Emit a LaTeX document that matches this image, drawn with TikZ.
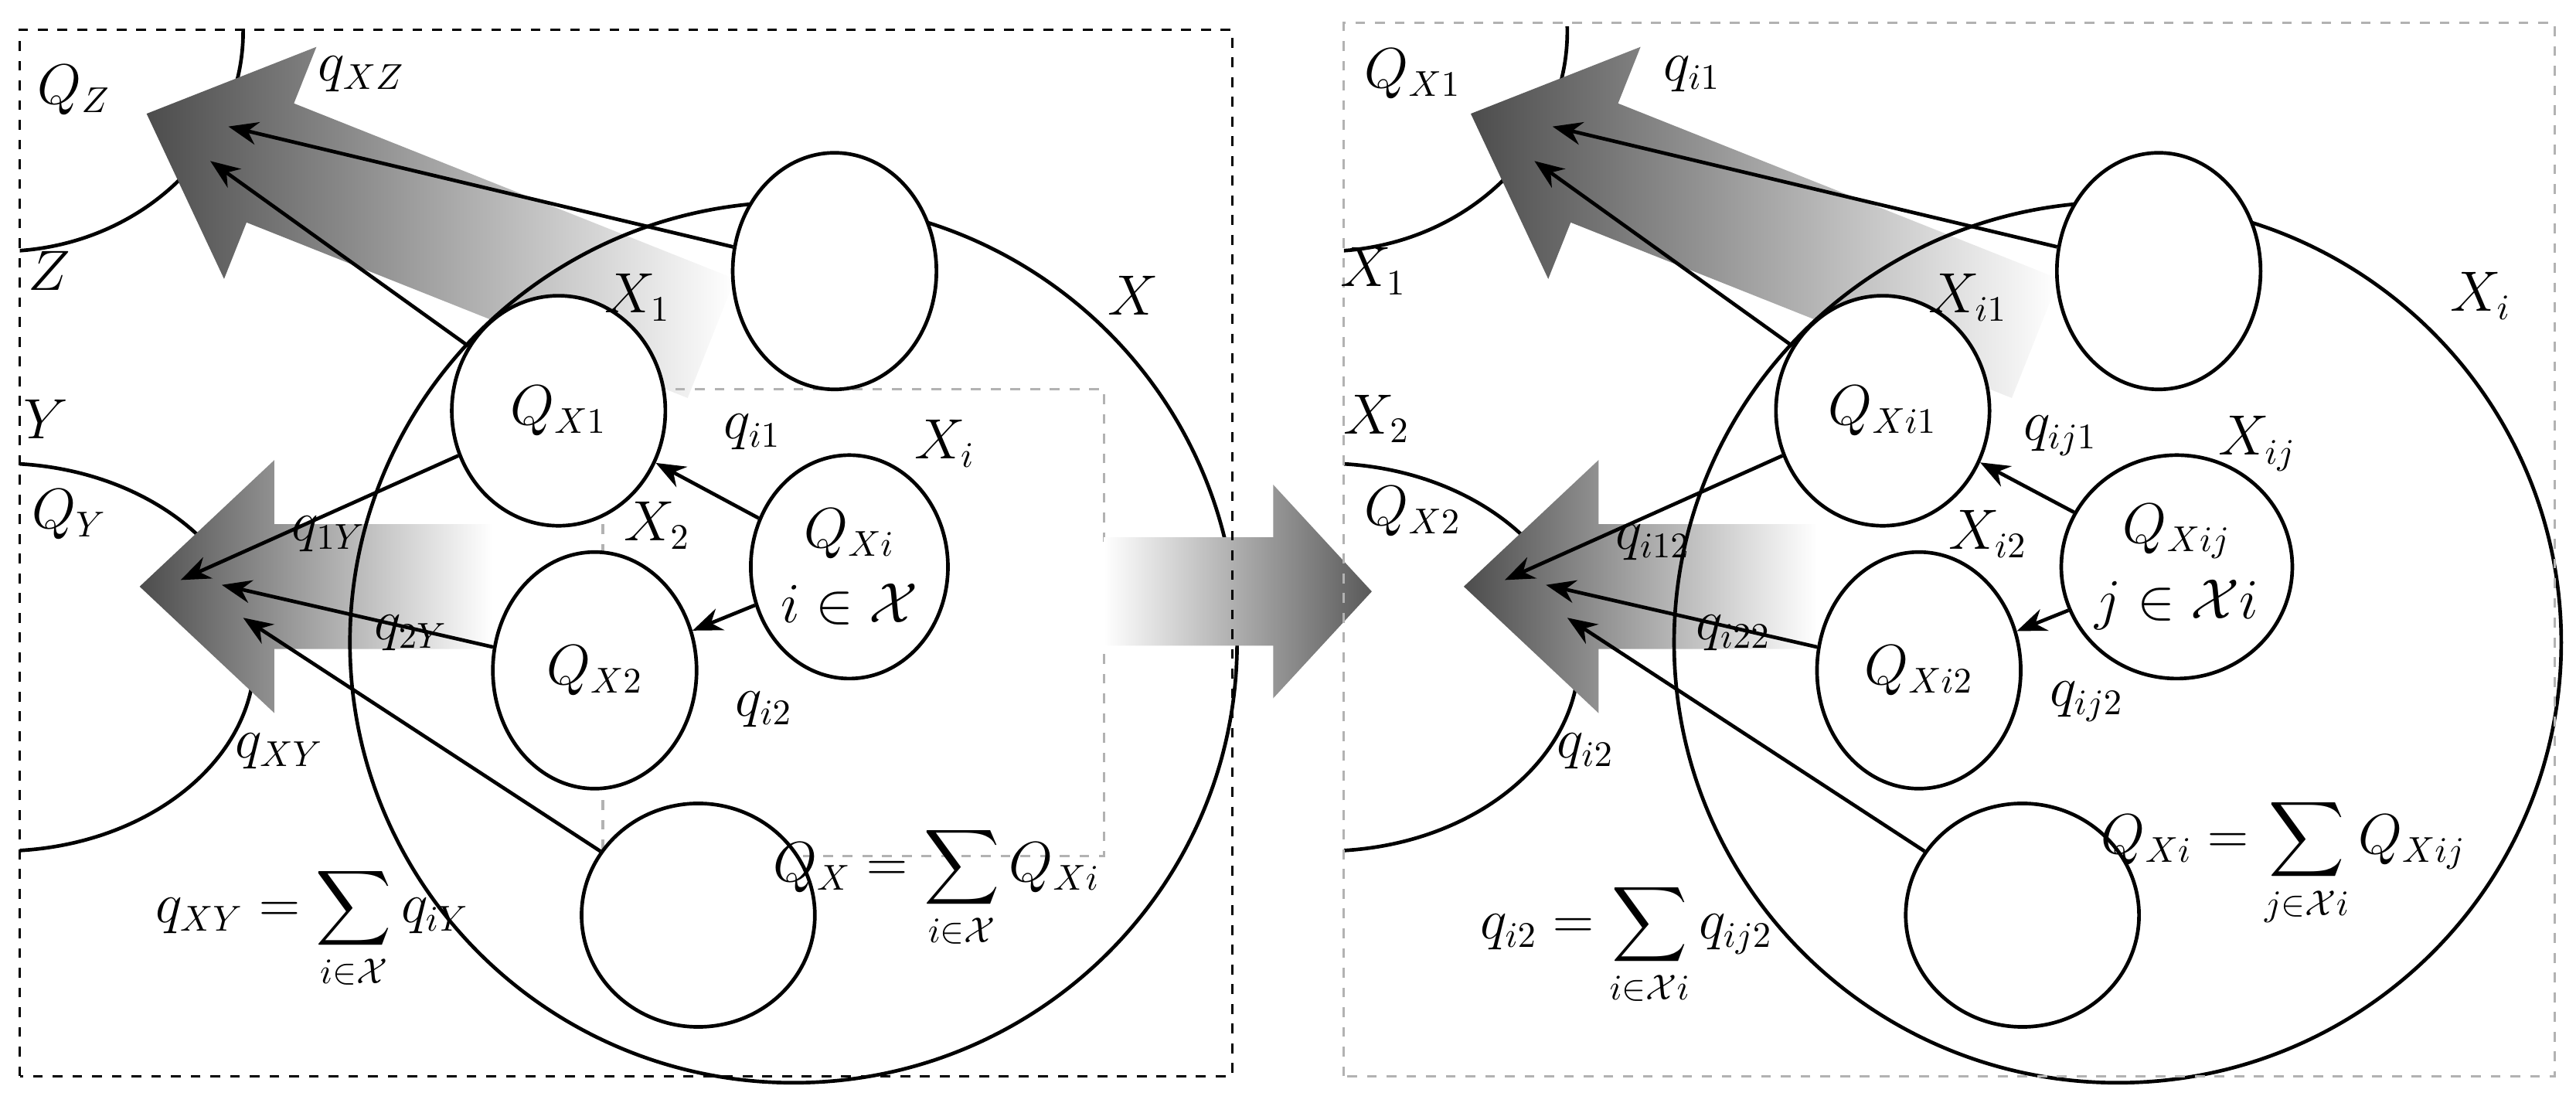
\documentclass[tikz,border=0pt]{standalone}
\usepackage{amsmath,amssymb}
\usepackage{tikz}
\usetikzlibrary{arrows.meta,shapes.geometric}

% shaded wide arrow: tail, angle, length, half shaft, half head, head length, shading
\newcommand{\fatarrow}[7]{%
  \shade[shift={#1},rotate=#2,#7]
    (0,-#4) -- ({#3-#6},-#4) -- ({#3-#6},-#5) -- (#3,0) -- ({#3-#6},#5)
    -- ({#3-#6},#4) -- (0,#4) -- cycle;}

\tikzset{
  txt/.style={font=\fontsize{16}{19}\selectfont},
  ring/.style={ellipse,draw,line width=1.1pt,fill=white,inner sep=0pt,txt},
  thin/.style={-{Stealth[length=9pt,width=7pt]},line width=1.1pt},
  lbl/.style={txt,inner sep=1pt},
  toleft/.style={left color=black!70,right color=white},
  toright/.style={left color=white,right color=black!65}
}

\begin{document}
\begin{tikzpicture}[x=0.5pt,y=0.5pt]
\useasboundingbox (0,0) rectangle (1568,671);

%% left panel
\begin{scope}
\begin{scope}
\clip (12,16) rectangle (750,653);
\draw[line width=1.1pt] (0,652) ellipse[x radius=148,y radius=134];
\draw[line width=1.1pt] (0,271) ellipse[x radius=155,y radius=118];
\end{scope}
\fatarrow{(433,465)}{158.3}{370}{39}{76}{81}{toleft}
\fatarrow{(300,314)}{180}{215}{38}{77}{82}{toleft}
\draw[line width=1.1pt] (483,280) ellipse[x radius=270,y radius=268];
\draw[gray!60,dashed,line width=0.8pt] (672,341) -- (672,434) -- (367,434) -- (367,150) -- (672,150) -- (672,276);
\fatarrow{(672,311)}{0}{163}{33}{65}{60}{toright}
\draw[black,dashed,line width=0.8pt] (12,16) rectangle (750,653);
\node[ring,minimum width=62pt,minimum height=72pt] (T) at (508,506) {};
\node[ring,minimum width=65pt,minimum height=70pt] (X1) at (340,421) {$Q_{X1}$};
\node[ring,minimum width=62pt,minimum height=72pt] (X2) at (362,263) {$Q_{X2}$};
\node[ring,minimum width=60pt,minimum height=68pt,align=center] (Xi) at (517,326) {$Q_{Xi}$\\[4pt]$i\in\mathcal{X}$};
\node[ring,minimum width=71pt,minimum height=68pt] (B) at (425,114) {};
\coordinate (zA) at (139,594);
\coordinate (zB) at (128,573);
\coordinate (yA) at (110,318);
\coordinate (yB) at (135,315);
\coordinate (yC) at (148,295);
\draw[thin] (T) -- (zA);
\draw[thin] (X1) -- (zB);
\draw[thin] (X1) -- (yA);
\draw[thin] (X2) -- (yB);
\draw[thin] (B) -- (yC);
\draw[thin] (Xi) -- (X1);
\draw[thin] (Xi) -- (X2);
\node[lbl] (lQZ) at (45,616) {$Q_Z$};
\node[lbl] (lqXZ) at (220,626) {$q_{XZ}$};
\node[lbl] (lZ) at (30,506) {$Z$};
\node[lbl] (lX1) at (388,490) {$X_1$};
\node[lbl] (lX) at (690,491) {$X$};
\node[lbl] (lY) at (28,416) {$Y$};
\node[lbl] (lQY) at (42,358) {$Q_Y$};
\node[lbl] (lq1Y) at (200,346) {$q_{1Y}$};
\node[lbl] (lX2) at (400,351) {$X_2$};
\node[lbl] (lqi1) at (458,408) {$q_{i1}$};
\node[lbl] (lXi) at (575,401) {$X_i$};
\node[lbl] (lq2Y) at (250,286) {$q_{2Y}$};
\node[lbl] (lqi2) at (465,239) {$q_{i2}$};
\node[lbl] (lqXY) at (170,214) {$q_{XY}$};
\node[lbl] (fL) at (190,106) {$q_{XY}=\displaystyle\sum_{i\in\mathcal{X}}q_{iY}$};
\node[lbl] (fR) at (570,131) {$Q_{X}=\displaystyle\sum_{i\in\mathcal{X}}Q_{Xi}$};
\end{scope}

%% right panel
\begin{scope}[xshift=806*0.5pt]
\begin{scope}
\clip (12,16) rectangle (749,655);
\draw[line width=1.1pt] (0,652) ellipse[x radius=148,y radius=134];
\draw[line width=1.1pt] (0,271) ellipse[x radius=155,y radius=118];
\end{scope}
\fatarrow{(433,465)}{158.3}{370}{39}{76}{81}{toleft}
\fatarrow{(300,314)}{180}{215}{38}{77}{82}{toleft}
\draw[line width=1.1pt] (483,280) ellipse[x radius=270,y radius=268];
\draw[gray!60,dashed,line width=0.8pt] (12,16) rectangle (749,657);
\node[ring,minimum width=62pt,minimum height=72pt] (rT) at (508,506) {};
\node[ring,minimum width=65pt,minimum height=70pt] (rX1) at (340,421) {$Q_{Xi1}$};
\node[ring,minimum width=62pt,minimum height=72pt] (rX2) at (362,263) {$Q_{Xi2}$};
\node[ring,minimum width=60pt,minimum height=68pt,align=center] (rXi) at (519,326) {$Q_{Xij}$\\[4pt]$j\in\mathcal{X}i$};
\node[ring,minimum width=71pt,minimum height=68pt] (rB) at (425,114) {};
\coordinate (rzA) at (139,594);
\coordinate (rzB) at (128,573);
\coordinate (ryA) at (110,318);
\coordinate (ryB) at (135,315);
\coordinate (ryC) at (148,295);
\draw[thin] (rT) -- (rzA);
\draw[thin] (rX1) -- (rzB);
\draw[thin] (rX1) -- (ryA);
\draw[thin] (rX2) -- (ryB);
\draw[thin] (rB) -- (ryC);
\draw[thin] (rXi) -- (rX1);
\draw[thin] (rXi) -- (rX2);
\node[lbl] (rlQX1) at (54,626) {$Q_{X1}$};
\node[lbl] (rlqi1) at (224,626) {$q_{i1}$};
\node[lbl] (rlX1) at (30,506) {$X_1$};
\node[lbl] (rlXi1) at (392,490) {$X_{i1}$};
\node[lbl] (rlXi) at (704,491) {$X_i$};
\node[lbl] (rlX2) at (32,416) {$X_2$};
\node[lbl] (rlQX2) at (54,360) {$Q_{X2}$};
\node[lbl] (rlqi12) at (200,341) {$q_{i12}$};
\node[lbl] (rlXi2) at (404,346) {$X_{i2}$};
\node[lbl] (rlqij1) at (448,406) {$q_{ij1}$};
\node[lbl] (rlXij) at (568,401) {$X_{ij}$};
\node[lbl] (rlqi22) at (249,286) {$q_{i22}$};
\node[lbl] (rlqij2) at (464,244) {$q_{ij2}$};
\node[lbl] (rlqi2) at (159,214) {$q_{i2}$};
\node[lbl] (rfR) at (584,146) {$Q_{Xi}=\displaystyle\sum_{j\in\mathcal{X}i}Q_{Xij}$};
\node[lbl] (rfL) at (184,96) {$q_{i2}=\displaystyle\sum_{i\in\mathcal{X}i}q_{ij2}$};
\end{scope}
\end{tikzpicture}
\end{document}
